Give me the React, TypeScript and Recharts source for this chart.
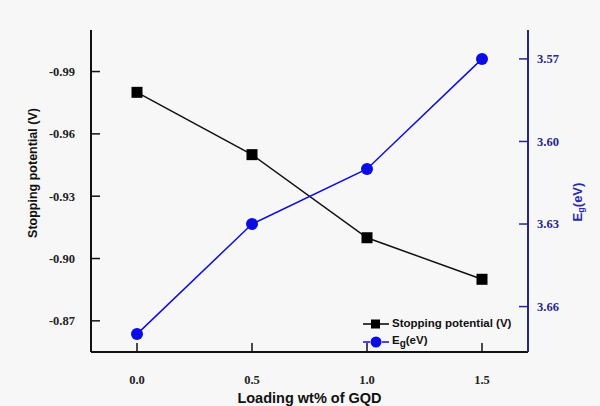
import React from 'react';
import { LineChart, Line, XAxis, YAxis } from 'recharts';

const loading = [0, 0.5, 1.0, 1.5];
const stoppingPotential = [-0.98, -0.95, -0.91, -0.89];
const bandGap = [3.67, 3.63, 3.61, 3.57];

const xTicks = [0, 0.5, 1.0, 1.5];
const leftTicks = [-0.99, -0.96, -0.93, -0.9, -0.87];
const rightTicks = [3.57, 3.6, 3.63, 3.66];

const data = loading.map((x, i) => ({ x, sp: stoppingPotential[i], eg: bandGap[i] }));

const NAVY = '#26268c';
const BLUE = '#0b0be6';
const SERIF = '"Liberation Serif", "Times New Roman", serif';
const SANS = '"Liberation Sans", Arial, sans-serif';

const SquareDot = (p: any) => (
  <rect key={`sq-${p.index}`} x={p.cx - 5.5} y={p.cy - 5.5} width={11} height={11} fill="#000" />
);

const CircleDot = (p: any) => (
  <circle key={`ci-${p.index}`} cx={p.cx} cy={p.cy} r={6} fill={BLUE} />
);

// legend drawn as an overlay so it doesn't shrink the plot area
const ChartLegend = () => (
  <div style={{ position: 'absolute', left: 363, top: 315, fontFamily: SANS, fontWeight: 'bold',
    fontSize: 11.5, lineHeight: '17px' }}>
    <div style={{ display: 'flex', alignItems: 'center' }}>
      <svg width={27} height={12}>
        <line x1={0} y1={6} x2={26} y2={6} stroke="#000" strokeWidth={1.5} />
        <rect x={8} y={1.5} width={9} height={9} fill="#000" />
      </svg>
      <span style={{ marginLeft: 2, color: '#111' }}>Stopping potential (V)</span>
    </div>
    <div style={{ display: 'flex', alignItems: 'center' }}>
      <svg width={27} height={12}>
        <line x1={0} y1={6} x2={7} y2={6} stroke={BLUE} strokeWidth={1.5} />
        <line x1={19} y1={6} x2={26} y2={6} stroke={BLUE} strokeWidth={1.5} />
        <circle cx={13} cy={6} r={5.5} fill={BLUE} />
      </svg>
      <span style={{ marginLeft: 2, color: '#111' }}>
        E<sub style={{ fontSize: 10 }}>g</sub>(eV)
      </span>
    </div>
  </div>
);

const LeftTitle = ({ viewBox }: any) => {
  const x = viewBox.x + 33;
  const y = viewBox.y + viewBox.height / 2 - 18;
  return (
    <text x={x} y={y} transform={`rotate(-90 ${x} ${y})`} textAnchor="middle" dominantBaseline="central"
      fontFamily={SANS} fontWeight="bold" fontSize={12.5} fill="#111">
      Stopping potential (V)
    </text>
  );
};

const RightTitle = ({ viewBox }: any) => {
  const x = viewBox.x + 49;
  const y = viewBox.y + viewBox.height / 2 + 11;
  return (
    <text x={x} y={y} transform={`rotate(-90 ${x} ${y})`} textAnchor="middle" dominantBaseline="central"
      fontFamily={SANS} fontWeight="bold" fontSize={13} fill="#2a2aa6">
      <tspan>E</tspan>
      <tspan dy={4} fontSize={9}>g</tspan>
      <tspan dy={-4}>(eV)</tspan>
    </text>
  );
};

export default function App() {
  return (
    <div style={{ position: 'absolute', left: 0, top: 0, width: 600, height: 406, background: '#f7f7f7' }}>
      <LineChart width={600} height={406} data={data} margin={{ top: 30, right: 0, left: 0, bottom: 0 }}>
        <XAxis
          xAxisId="bottom"
          dataKey="x"
          type="number"
          domain={[-0.2, 1.7]}
          ticks={xTicks}
          tickFormatter={(v: number) => v.toFixed(1)}
          height={54}
          tickSize={-9}
          tickMargin={32}
          axisLine={{ stroke: '#111', strokeWidth: 2 }}
          tickLine={{ stroke: '#111', strokeWidth: 1.5 }}
          tick={{ fill: '#222', fontFamily: SERIF, fontWeight: 'bold', fontSize: 12.5 }}
          label={{ value: 'Loading wt% of GQD', position: 'insideBottom', offset: 3, fill: '#111',
            style: { fontFamily: SANS, fontWeight: 'bold', fontSize: 14.5 } }}
        />
        <XAxis
          xAxisId="top"
          dataKey="x"
          type="number"
          orientation="top"
          domain={[-0.2, 1.7]}
          height={0}
          tick={false}
          tickLine={false}
          axisLine={{ stroke: '#111', strokeWidth: 1.5 }}
        />
        <YAxis
          yAxisId="left"
          type="number"
          domain={[-1.01, -0.855]}
          reversed
          ticks={leftTicks}
          tickFormatter={(v: number) => v.toFixed(2)}
          width={91}
          tickSize={-9}
          tickMargin={25}
          axisLine={{ stroke: '#111', strokeWidth: 2 }}
          tickLine={{ stroke: '#111', strokeWidth: 1.5 }}
          tick={{ fill: '#222', fontFamily: SERIF, fontWeight: 'bold', fontSize: 12.5 }}
          label={<LeftTitle />}
        />
        <YAxis
          yAxisId="right"
          orientation="right"
          type="number"
          domain={[3.5595, 3.6765]}
          reversed
          ticks={rightTicks}
          tickFormatter={(v: number) => v.toFixed(2)}
          width={72}
          tickSize={-9}
          tickMargin={18}
          axisLine={{ stroke: NAVY, strokeWidth: 2 }}
          tickLine={{ stroke: NAVY, strokeWidth: 1.5 }}
          tick={{ fill: NAVY, fontFamily: SERIF, fontWeight: 'bold', fontSize: 12.5 }}
          label={<RightTitle />}
        />
        <Line
          xAxisId="bottom"
          yAxisId="left"
          type="linear"
          dataKey="sp"
          name="Stopping potential (V)"
          stroke="#111"
          strokeWidth={1.5}
          dot={SquareDot}
          activeDot={false}
          isAnimationActive={false}
        />
        <Line
          xAxisId="bottom"
          yAxisId="right"
          type="linear"
          dataKey="eg"
          name="Eg(eV)"
          stroke={BLUE}
          strokeWidth={1.5}
          dot={CircleDot}
          activeDot={false}
          isAnimationActive={false}
        />
      </LineChart>
      <ChartLegend />
    </div>
  );
}
